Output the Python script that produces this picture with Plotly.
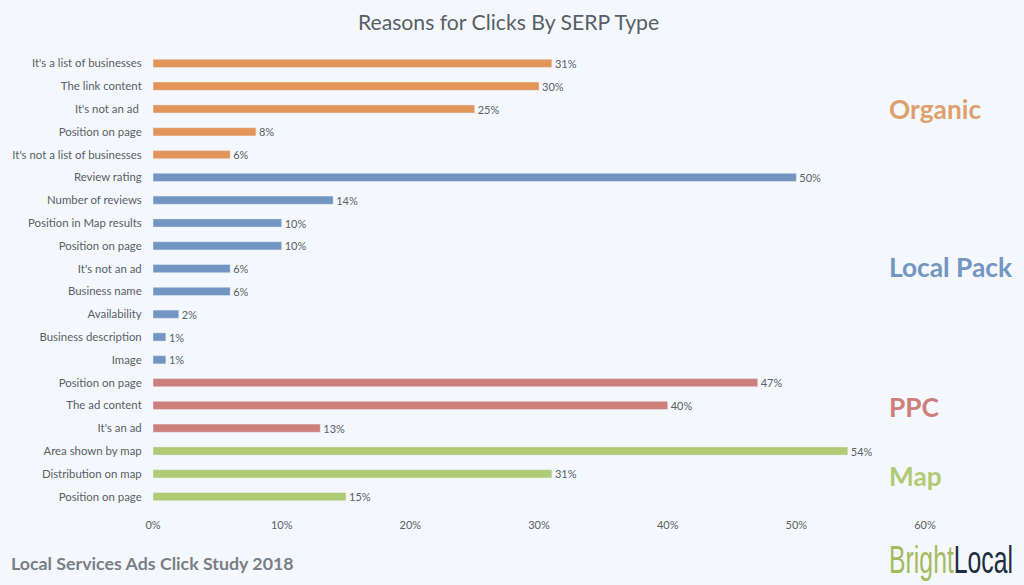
"""Reasons for clicks by SERP type, horizontal bars grouped by result type."""

import plotly.graph_objects as go

FONT = "Lato"
BACKGROUND = "#f4f8fc"
TEXT = "#595f66"

organic_labels = ["It's a list of businesses", "The link content", "It's not an ad ",
                  "Position on page", "It's not a list of businesses"]
organic_values = [31, 30, 25, 8, 6]

local_labels = ["Review rating", "Number of reviews", "Position in Map results",
                "Position on page", "It's not an ad", "Business name", "Availability",
                "Business description", "Image"]
local_values = [50, 14, 10, 10, 6, 6, 2, 1, 1]

ppc_labels = ["Position on page", "The ad content", "It's an ad"]
ppc_values = [47, 40, 13]

map_labels = ["Area shown by map", "Distribution on map", "Position on page"]
map_values = [54, 31, 15]

x_ticks = [0, 10, 20, 30, 40, 50, 60]

groups = [
    ("Organic", organic_labels, organic_values, "#e39459", "#dda06c", 0.876),
    ("Local Pack", local_labels, local_values, "#7295c1", "#7295c1", 0.528),
    ("PPC", ppc_labels, ppc_values, "#cd7f7b", "#cd7f7b", 0.222),
    ("Map", map_labels, map_values, "#b0cb73", "#b0cb73", 0.071),
]

fig = go.Figure()

# categories repeat between groups, so bars sit on row numbers
all_labels = []
row = 0
for name, labels, values, color, label_color, label_y in groups:
    rows = list(range(row, row + len(labels)))
    row += len(labels)
    all_labels += labels
    fig.add_trace(
        go.Bar(
            x=values,
            y=rows,
            orientation="h",
            name=name,
            marker_color=color,
            text=[f"{v}%" for v in values],
            textposition="outside",
            constraintext="none",
            textfont=dict(size=11, color=TEXT, family=FONT),
            cliponaxis=False,
            width=0.36,
        )
    )
    fig.add_annotation(
        text=f"<b>{name}</b>",
        xref="paper", yref="paper",
        x=0.9505, y=label_y,
        xanchor="left", yanchor="middle",
        showarrow=False,
        font=dict(size=26.3, color=label_color, family=FONT),
    )

fig.add_annotation(
    text="<b>Local Services Ads Click Study 2018</b>",
    xref="paper", yref="paper",
    x=-0.1865, y=-0.121,
    xanchor="left", yanchor="middle",
    showarrow=False,
    font=dict(size=17.8, color="#7a7f85", family=FONT),
)
fig.add_annotation(
    text="<span style='color:#a3bb5c'>Bright</span><span style='color:#1e2d40'>Local</span>",
    xref="paper", yref="paper",
    x=1.0336, y=-0.113,
    xanchor="center", yanchor="middle",
    showarrow=False,
    font=dict(size=38, family="Liberation Sans"),
)

fig.update_layout(
    width=1024,
    height=585,
    margin=dict(l=152.5, r=99, t=51.5, b=76.5),
    title=dict(
        text="Reasons for Clicks By SERP Type",
        x=0.4966, xanchor="center",
        y=0.961, yanchor="middle",
        font=dict(size=21.2, color=TEXT, family=FONT),
    ),
    paper_bgcolor=BACKGROUND,
    plot_bgcolor=BACKGROUND,
    font=dict(family=FONT, color=TEXT, size=11.4),
    showlegend=False,
    barmode="overlay",
)
fig.update_xaxes(
    automargin=False,
    range=[0, 60],
    tickvals=x_ticks,
    ticktext=[f"{v}%" for v in x_ticks],
    tickfont=dict(size=11),
    showgrid=False,
    zeroline=False,
    ticks="outside",
    ticklen=7,
    tickcolor="rgba(0,0,0,0)",
)
fig.update_yaxes(
    automargin=False,
    range=[len(all_labels) - 0.5, -0.5],
    tickvals=list(range(len(all_labels))),
    ticktext=all_labels,
    showgrid=False,
    zeroline=False,
    ticks="outside",
    ticklen=8,
    tickcolor="rgba(0,0,0,0)",
)

# drop the page margin and squeeze the logo, there is no narrow font installed
post_script = """
document.body.style.margin = '0';
var texts = document.querySelectorAll('.annotation-text');
var logo = texts[texts.length - 1];
var box = logo.getBBox();
var cx = box.x + box.width / 2;
logo.setAttribute('transform', 'translate(' + cx + ',0) scale(' + (124 / box.width) + ',1) translate(' + (-cx) + ',0)');
"""

fig.write_html("out.html", post_script=post_script, config=dict(displayModeBar=False))
